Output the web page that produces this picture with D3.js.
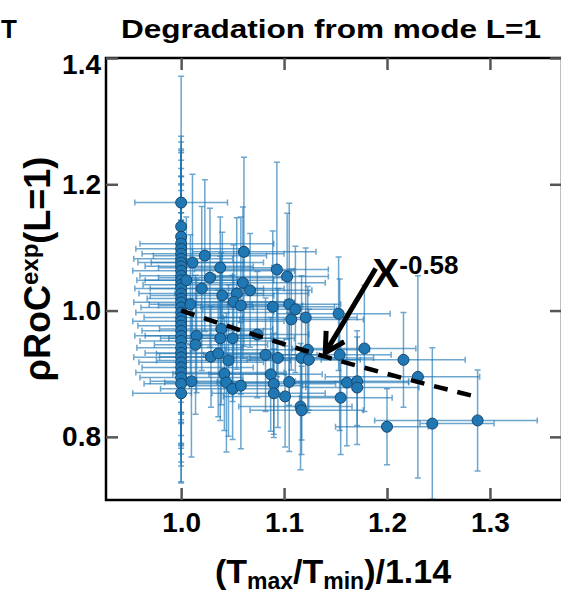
<!DOCTYPE html>
<html>
<head>
<meta charset="utf-8">
<script src="https://cdn.jsdelivr.net/npm/d3@7"></script>
<style>
  body { margin: 0; background: #fff; }
  text { font-family: "Liberation Sans", Arial, sans-serif; font-weight: bold; }
</style>
</head>
<body>
<div id="chart"></div>
<script>
//Points sitting at x = 1.0 (the dense column).
const colY   = [1.171,1.133,1.117,1.106,1.098,1.090,1.082,1.076,1.070,1.063,1.055,1.048,1.041,1.035,1.027,1.019,1.013,1.005,0.997,0.989,0.983,0.976,0.968,0.960,0.952,0.941,0.933,0.926,0.918,0.910,0.902,0.894,0.884,0.869];
const colXLo = [0.045,0,0,0.040,0.044,0.038,0.046,0.042,0.035,0.047,0.040,0.043,0.037,0.045,0.041,0.033,0.046,0.039,0.044,0.036,0.047,0.042,0.038,0.045,0.040,0.043,0.035,0.046,0.041,0.038,0.044,0.040,0.036,0.047];
const colXHi = [0.045,0,0,0.09,0.06,0.10,0.05,0.08,0.07,0.11,0.05,0.09,0.06,0.10,0.08,0.05,0.11,0.07,0.09,0.06,0.10,0.05,0.08,0.07,0.10,0.06,0.09,0.05,0.08,0.07,0.10,0.06,0.05,0.01];
const colYErr = [0.20,0.12,0.15,0.17,0.14,0.16,0.13,0.18,0.12,0.15,0.17,0.13,0.16,0.12,0.14,0.18,0.13,0.15,0.17,0.12,0.16,0.14,0.13,0.17,0.15,0.12,0.16,0.14,0.13,0.15,0.12,0.167,0.13,0.14];

//Points spread to the right of the column.
const ptX = [1.023,1.011,1.061,1.038,1.028,1.093,1.103,1.060,1.067,1.020,1.040,1.054,1.051,1.058,1.009,1.089,1.105,1.111,1.107,1.121,1.153,1.039,1.050,1.038,1.015,1.014,1.029,1.036,1.046,1.082,1.094,1.117,1.123,1.124,1.154,1.161,1.042,1.044,1.050,1.058,1.010,1.087,1.090,1.105,1.090,1.155,1.074,1.178,1.216,1.230,1.101,1.171,1.171,1.116,1.117,1.200,1.244,1.288,1.005];
const ptY = [1.087,1.076,1.093,1.068,1.052,1.065,1.054,1.044,1.032,1.035,1.024,1.027,1.014,1.008,1.010,1.006,1.010,1.002,0.986,0.989,0.995,0.971,0.956,0.956,0.960,0.946,0.927,0.932,0.921,0.930,0.925,0.925,0.938,0.922,0.930,0.886,0.900,0.886,0.876,0.881,0.888,0.899,0.884,0.887,0.869,0.862,0.962,0.940,0.922,0.895,0.864,0.888,0.878,0.848,0.842,0.816,0.821,0.826,1.048];
const ptXLo = [0.05,0.04,0.05,0.06,0.05,0.08,0.07,0.06,0.05,0.05,0.07,0.06,0.05,0.08,0.04,0.07,0.06,0.09,0.05,0.08,0.06,0.06,0.07,0.05,0.05,0.04,0.05,0.06,0.07,0.06,0.07,0.05,0.08,0.06,0.07,0.06,0.05,0.06,0.07,0.05,0.04,0.06,0.05,0.07,0.06,0.04,0.06,0.07,0.08,0.09,0.06,0.06,0.05,0.06,0.05,0.05,0.012,0.10,0.04];
const ptXHi = [0.06,0.05,0.07,0.05,0.07,0.05,0.04,0.08,0.06,0.06,0.05,0.07,0.05,0.06,0.06,0.06,0.05,0.04,0.07,0.05,0.05,0.05,0.06,0.05,0.06,0.07,0.06,0.05,0.06,0.05,0.06,0.07,0.06,0.05,0.05,0.06,0.06,0.05,0.04,0.06,0.05,0.05,0.06,0.05,0.05,0.05,0.05,0.05,0.06,0.06,0.05,0.05,0.06,0.05,0.06,0.04,0.06,0.058,0.05];
const ptYErr = [0.12,0.14,0.15,0.08,0.11,0.17,0.10,0.12,0.09,0.13,0.10,0.12,0.09,0.14,0.11,0.12,0.16,0.10,0.08,0.11,0.09,0.12,0.10,0.13,0.09,0.11,0.08,0.10,0.12,0.09,0.11,0.13,0.10,0.08,0.12,0.10,0.09,0.11,0.08,0.10,0.12,0.09,0.08,0.11,0.07,0.09,0.10,0.10,0.075,0.16,0.08,0.07,0.09,0.10,0.07,0.06,0.12,0.08,0.10];

//Power-law fit.
const fitX = [1.0, 1.14, 1.288];
const fitY = [1.0, 0.927, 0.863];

//Axis ticks.
const xTicks = [1.0, 1.1, 1.2, 1.3];
const yTicks = [0.8, 1.0, 1.2, 1.4];

//Annotation arrow and its label.
const arrowFrom = [1.189, 1.0665];
const arrowTo = [1.140, 0.933];
const labelAt = [1.186, 1.037];

//Build one table from the arrays.
const data = colY.map((y, i) => ({ x: 1.0, y: y, xlo: colXLo[i], xhi: colXHi[i], ye: colYErr[i] }))
  .concat(ptX.map((x, i) => ({ x: x, y: ptY[i], xlo: ptXLo[i], xhi: ptXHi[i], ye: ptYErr[i] })));

const width = 561;
const height = 590;
const margin = { top: 58, right: -1, bottom: 90, left: 106 };

const svg = d3.select("#chart")
  .append("svg")
  .attr("width", width)
  .attr("height", height);

const xScale = d3.scaleLinear()
  .domain([0.927, 1.37])
  .range([margin.left, width - margin.right]);

const yScale = d3.scaleLinear()
  .domain([0.7, 1.4])
  .range([height - margin.bottom, margin.top]);

const blue = "#1f77b4";

svg.append("clipPath").attr("id", "plotclip")
  .append("rect")
  .attr("x", margin.left).attr("y", margin.top)
  .attr("width", xScale.range()[1] - margin.left)
  .attr("height", yScale.range()[0] - margin.top);

const plot = svg.append("g").attr("clip-path", "url(#plotclip)");

//Error bars.
const bars = plot.append("g")
  .attr("stroke", blue)
  .attr("stroke-opacity", 0.65)
  .attr("stroke-width", 1.5)
  .attr("fill", "none");

data.forEach(d => {
  const cx = xScale(d.x), cy = yScale(d.y);
  if (d.xlo > 0 || d.xhi > 0) {
    const x0 = xScale(d.x - d.xlo), x1 = xScale(d.x + d.xhi);
    bars.append("path").attr("d", `M${x0},${cy}H${x1}M${x0},${cy - 3}V${cy + 3}M${x1},${cy - 3}V${cy + 3}`);
  }
  const y0 = yScale(d.y + d.ye), y1 = yScale(d.y - d.ye);
  bars.append("path").attr("d", `M${cx},${y0}V${y1}M${cx - 3},${y0}H${cx + 3}M${cx - 3},${y1}H${cx + 3}`);
});

//Data points.
plot.append("g")
  .selectAll("circle")
  .data(data)
  .enter()
  .append("circle")
  .attr("cx", d => xScale(d.x))
  .attr("cy", d => yScale(d.y))
  .attr("r", 5.5)
  .attr("fill", blue)
  .attr("stroke", "#18476e")
  .attr("stroke-width", 1);

//Dashed fit line.
svg.append("path")
  .datum(fitX.map((x, i) => [x, fitY[i]]))
  .attr("d", d3.line().x(d => xScale(d[0])).y(d => yScale(d[1])).curve(d3.curveMonotoneX))
  .attr("fill", "none")
  .attr("stroke", "black")
  .attr("stroke-width", 4.5)
  .attr("stroke-dasharray", "14,10");

//Frame.
svg.append("rect")
  .attr("x", margin.left)
  .attr("y", margin.top)
  .attr("width", xScale.range()[1] - margin.left)
  .attr("height", yScale.range()[0] - margin.top)
  .attr("fill", "none")
  .attr("stroke", "black")
  .attr("stroke-width", 2.5);

//Axes with inward ticks.
function styleAxis(g) {
  g.select(".domain").remove();
  g.selectAll(".tick line").attr("stroke", "#555").attr("stroke-width", 2.5);
  g.selectAll(".tick text")
    .attr("fill", "black")
    .style("font-size", "28px")
    .style("font-family", "Liberation Sans, Arial, sans-serif")
    .style("font-weight", "bold");
}

svg.append("g")
  .attr("transform", `translate(0,${yScale.range()[0]})`)
  .call(d3.axisBottom(xScale).tickValues(xTicks).tickSize(-12).tickPadding(12).tickFormat(d3.format(".1f")))
  .call(styleAxis);

svg.append("g")
  .attr("transform", `translate(0,${margin.top})`)
  .call(d3.axisTop(xScale).tickValues(xTicks).tickSize(-12).tickFormat(""))
  .call(styleAxis);

svg.append("g")
  .attr("transform", `translate(${margin.left},0)`)
  .call(d3.axisLeft(yScale).tickValues(yTicks).tickSize(-12).tickPadding(5).tickFormat(d3.format(".1f")))
  .call(styleAxis)
  .selectAll(".tick text")
  .filter(d => d === 1.4)
  .attr("dy", "0.55em");

svg.append("g")
  .attr("transform", `translate(${xScale.range()[1]},0)`)
  .call(d3.axisRight(yScale).tickValues(yTicks).tickSize(-12).tickFormat(""))
  .call(styleAxis);

//Title and panel letter.
svg.append("text")
  .attr("x", 331)
  .attr("y", 38)
  .attr("text-anchor", "middle")
  .attr("textLength", 420)
  .attr("lengthAdjust", "spacingAndGlyphs")
  .style("font-size", "26px")
  .text("Degradation from mode L=1");

svg.append("text")
  .attr("x", 1)
  .attr("y", 38)
  .style("font-size", "26px")
  .text("T");

//Axis labels.
const xl = svg.append("text")
  .attr("x", 333)
  .attr("y", 583)
  .attr("text-anchor", "middle")
  .style("font-size", "34px");
xl.append("tspan").text("(T");
xl.append("tspan").attr("dy", 6).style("font-size", "23px").text("max");
xl.append("tspan").attr("dy", -6).text("/T");
xl.append("tspan").attr("dy", 6).style("font-size", "23px").text("min");
xl.append("tspan").attr("dy", -6).text(")/1.14");

const yl = svg.append("text")
  .attr("transform", "translate(50,269) rotate(-90)")
  .attr("text-anchor", "middle")
  .style("font-size", "36px");
yl.append("tspan").text("ρRoC");
yl.append("tspan").attr("dy", -12).style("font-size", "24px").text("exp");
yl.append("tspan").attr("dy", 12).text("(L=1)");

//Arrow annotation.
const ax0 = xScale(arrowFrom[0]), ay0 = yScale(arrowFrom[1]);
const ax1 = xScale(arrowTo[0]), ay1 = yScale(arrowTo[1]);
const ang = Math.atan2(ay0 - ay1, ax0 - ax1);
const head = 22, spread = 0.5;
svg.append("path")
  .attr("d", `M${ax0},${ay0}L${ax1},${ay1}` +
    `M${ax1 + head * Math.cos(ang - spread)},${ay1 + head * Math.sin(ang - spread)}L${ax1},${ay1}` +
    `L${ax1 + head * Math.cos(ang + spread)},${ay1 + head * Math.sin(ang + spread)}`)
  .attr("fill", "none")
  .attr("stroke", "black")
  .attr("stroke-width", 5);

const lab = svg.append("text")
  .attr("x", xScale(labelAt[0]))
  .attr("y", yScale(labelAt[1]))
  .style("font-size", "40px");
lab.append("tspan").text("X");
lab.append("tspan").attr("dy", -13).style("font-size", "26px").text("-0.58");
</script>
</body>
</html>
